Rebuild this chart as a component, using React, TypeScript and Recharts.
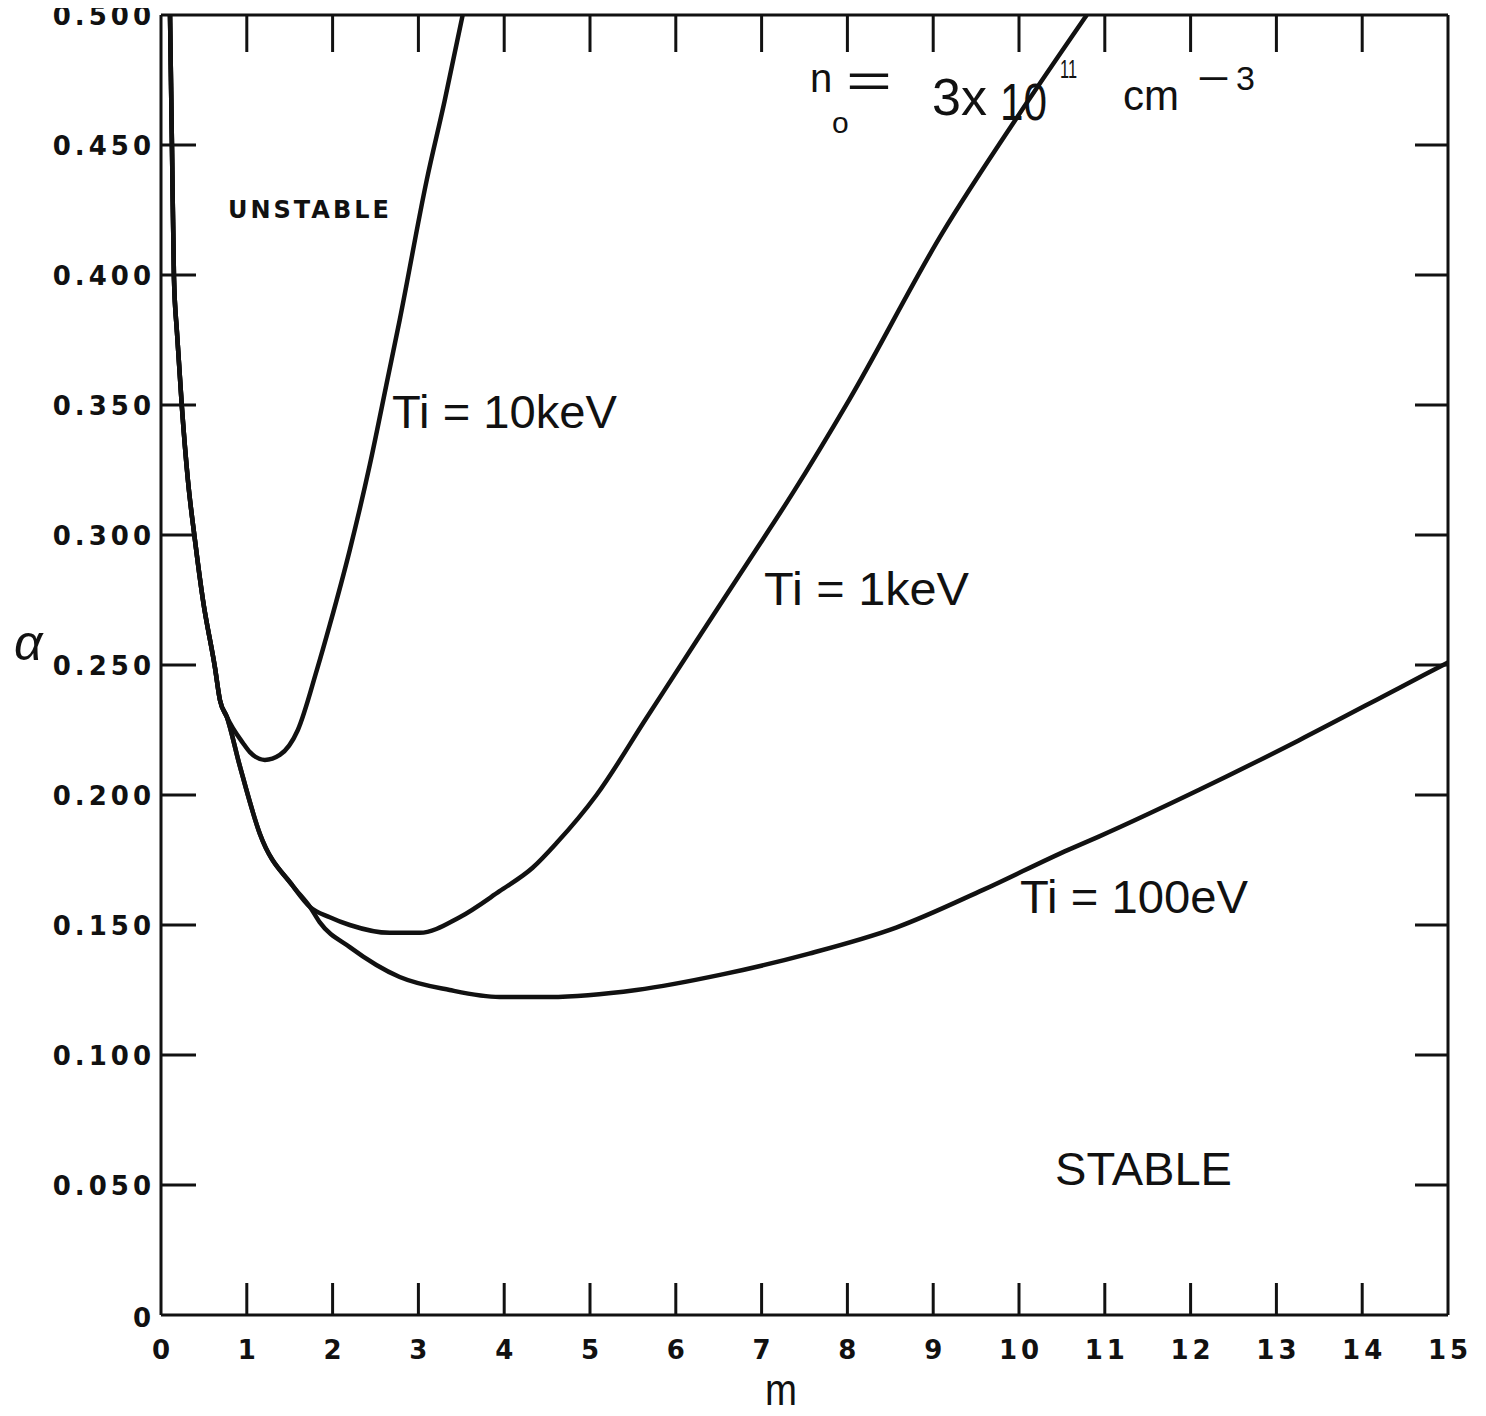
import { LineChart, Line, XAxis, YAxis } from "recharts";

// common left branch, all three curves start here
const sharedM = [0.105, 0.128, 0.151, 0.186, 0.244, 0.314, 0.396, 0.489, 0.629, 0.687, 0.768];
const sharedA = [0.5, 0.449, 0.399, 0.378, 0.349, 0.321, 0.298, 0.275, 0.249, 0.2365, 0.23];

// Ti = 10 keV leaves the common branch
const tenKeVM = [0.955, 1.036, 1.211, 1.385, 1.595, 1.816, 1.967, 2.2, 2.433, 2.643, 2.782, 3.097, 3.306, 3.516];
const tenKeVA = [0.22, 0.2165, 0.2135, 0.2154, 0.225, 0.248, 0.2654, 0.2942, 0.3269, 0.3604, 0.3827, 0.4365, 0.467, 0.5];

// 1 keV and 100 eV share this piece
const lowerM = [0.92, 1.153, 1.537, 1.735];
const lowerA = [0.211, 0.185, 0.165, 0.157];

const oneKeVM = [1.967, 2.2, 2.666, 3.015, 3.481, 3.946, 4.331, 4.61, 5.076, 5.658, 6.24, 6.857, 7.357, 8.021, 9.104, 9.965, 10.79];
const oneKeVA = [0.153, 0.15, 0.147, 0.147, 0.153, 0.163, 0.172, 0.1815, 0.2, 0.2296, 0.2592, 0.2904, 0.3158, 0.352, 0.416, 0.46, 0.5];

const hundredEvM = [1.851, 2.2, 2.782, 3.364, 3.946, 4.529, 5.541, 6.543, 7.555, 8.568, 9.581, 10.58, 10.93, 12.1, 13.26, 14.42, 15];
const hundredEvA = [0.151, 0.1415, 0.13, 0.125, 0.1223, 0.1223, 0.125, 0.131, 0.139, 0.149, 0.1635, 0.179, 0.184, 0.202, 0.221, 0.241, 0.251];

const xTicks = [0, 1, 2, 3, 4, 5, 6, 7, 8, 9, 10, 11, 12, 13, 14, 15];
const yTicks = [0, 0.05, 0.1, 0.15, 0.2, 0.25, 0.3, 0.35, 0.4, 0.45, 0.5];

const zip = (m: number[], a: number[]) => m.map((v, i) => ({ m: v, a: a[i] }));

const tenKeV = zip([...sharedM, ...tenKeVM], [...sharedA, ...tenKeVA]);
const oneKeV = zip([...sharedM, ...lowerM, ...oneKeVM], [...sharedA, ...lowerA, ...oneKeVA]);
const hundredEv = zip([...sharedM, ...lowerM, ...hundredEvM], [...sharedA, ...lowerA, ...hundredEvA]);

const ink = "#111";
const tickFont = { fontFamily: "'DejaVu Sans', sans-serif", fontWeight: 700, fontSize: 26, letterSpacing: 4 };
const noteFont = "'Liberation Sans', Arial, sans-serif";

function BottomTick({ x, y, payload }: any) {
  const v = payload.value;
  return (
    <g>
      {v > 0 && v < 15 && <line x1={x} x2={x} y1={y} y2={y - 32} stroke={ink} strokeWidth={3} />}
      <text x={x + 2} y={y + 44} textAnchor="middle" fill={ink} {...tickFont}>{v}</text>
    </g>
  );
}

function TopTick({ x, y, payload }: any) {
  const v = payload.value;
  if (v <= 0 || v >= 15) return <g />;
  return <line x1={x} x2={x} y1={y} y2={y + 37} stroke={ink} strokeWidth={3} />;
}

function LeftTick({ x, y, payload }: any) {
  const v = payload.value;
  const label = v === 0 ? "0" : v.toFixed(3);
  return (
    <g>
      {v > 0 && v < 0.5 && <line x1={x} x2={x + 35} y1={y} y2={y} stroke={ink} strokeWidth={3} />}
      <text x={x - 6} y={v === 0 ? y + 12 : y + 10} textAnchor="end" fill={ink} {...tickFont}>{label}</text>
    </g>
  );
}

function RightTick({ x, y, payload }: any) {
  const v = payload.value;
  if (v <= 0 || v >= 0.5) return <g />;
  return <line x1={x} x2={x - 33} y1={y} y2={y} stroke={ink} strokeWidth={3} />;
}

export default function App() {
  const axisLine = { stroke: ink, strokeWidth: 3 };
  return (
    <div style={{ position: "relative", width: 1486, height: 1416, margin: "-8px 0 0 -8px", background: "#fff" }}>
      <LineChart width={1486} height={1416} margin={{ top: 14, right: 37, left: 0, bottom: 0 }}>
        <XAxis
          dataKey="m"
          type="number"
          domain={[0, 15]}
          ticks={xTicks}
          interval={0}
          allowDataOverflow
          height={101}
          tickSize={0}
          tickMargin={0}
          tickLine={false}
          axisLine={axisLine}
          tick={<BottomTick />}
        />
        <XAxis
          xAxisId="top"
          orientation="top"
          dataKey="m"
          type="number"
          domain={[0, 15]}
          ticks={xTicks}
          interval={0}
          allowDataOverflow
          height={1}
          tickSize={0}
          tickMargin={0}
          tickLine={false}
          axisLine={axisLine}
          tick={<TopTick />}
        />
        <YAxis
          type="number"
          domain={[0, 0.5]}
          ticks={yTicks}
          interval={0}
          allowDataOverflow
          width={161}
          tickSize={0}
          tickMargin={0}
          tickLine={false}
          axisLine={axisLine}
          tick={<LeftTick />}
        />
        <YAxis
          yAxisId="right"
          orientation="right"
          type="number"
          domain={[0, 0.5]}
          ticks={yTicks}
          interval={0}
          allowDataOverflow
          width={1}
          tickSize={0}
          tickMargin={0}
          tickLine={false}
          axisLine={axisLine}
          tick={<RightTick />}
        />
        <Line data={tenKeV} dataKey="a" type="monotone" stroke={ink} strokeWidth={4.5} dot={false} isAnimationActive={false} />
        <Line data={oneKeV} dataKey="a" xAxisId="top" yAxisId="right" type="monotone" stroke={ink} strokeWidth={4.5} dot={false} isAnimationActive={false} />
        <Line data={hundredEv} dataKey="a" type="monotone" stroke={ink} strokeWidth={4.5} dot={false} isAnimationActive={false} />
      </LineChart>

      <svg width={1486} height={1416} style={{ position: "absolute", left: 0, top: 0, pointerEvents: "none" }}>
        <g fill={ink} fontFamily={noteFont}>
          <text x={228} y={218} {...tickFont} fontSize={24} letterSpacing={3}>UNSTABLE</text>
          <text x={392} y={428} fontSize={47} textLength={225} lengthAdjust="spacingAndGlyphs">Ti = 10keV</text>
          <text x={764} y={605} fontSize={47} textLength={205} lengthAdjust="spacingAndGlyphs">Ti = 1keV</text>
          <text x={1020} y={913} fontSize={47} textLength={228} lengthAdjust="spacingAndGlyphs">Ti = 100eV</text>
          <text x={1055} y={1185} fontSize={46} textLength={177} lengthAdjust="spacingAndGlyphs">STABLE</text>

          <text x={810} y={92} fontSize={40}>n</text>
          <text x={832} y={133} fontSize={30}>o</text>
          <text x={846} y={97} fontSize={48} textLength={46} lengthAdjust="spacingAndGlyphs">=</text>
          <text x={932} y={115} fontSize={52}>3x</text>
          <text x={1000} y={120} fontSize={52} textLength={47} lengthAdjust="spacingAndGlyphs">10</text>
          <text x={1060} y={78} fontSize={26} textLength={17} lengthAdjust="spacingAndGlyphs">11</text>
          <text x={1123} y={110} fontSize={42}>cm</text>
          <text x={1197} y={92} fontSize={40} textLength={33} lengthAdjust="spacingAndGlyphs">−</text>
          <text x={1236} y={90} fontSize={34}>3</text>

          <text x={14} y={660} fontSize={50} fontStyle="italic">α</text>
          <text x={765} y={1405} fontSize={44} textLength={32} lengthAdjust="spacingAndGlyphs">m</text>
        </g>
      </svg>
    </div>
  );
}
